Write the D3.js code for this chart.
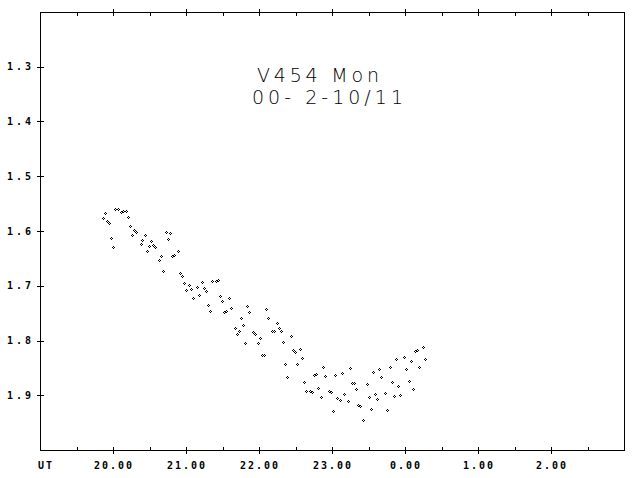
<!DOCTYPE html>
<html>
<head>
<meta charset="utf-8">
<script src="https://cdn.jsdelivr.net/npm/d3@7"></script>
<style>
  html, body { margin: 0; padding: 0; background: #fff; }
  svg { display: block; }
</style>
</head>
<body>
<svg id="chart" width="638" height="478"></svg>
<script>
// ---- data (UT hours, after midnight continued past 24) ----
const utHours = [
  19.894, 19.867, 19.922, 19.949, 20.032, 20.073, 20.114, 20.141, 20.182, 20.210,
  19.977, 20.004, 20.237, 20.292, 20.311, 20.264, 20.442, 20.401, 20.379, 20.525,
  20.497, 20.552, 20.579, 20.470, 20.730, 20.785, 20.758, 20.662, 20.634, 20.689,
  20.895, 20.812, 20.840, 20.918, 20.941, 20.977, 21.045, 21.004, 21.073, 21.155,
  21.215, 21.242, 21.270, 21.182, 21.100, 21.305, 21.356, 21.411, 21.442, 21.470,
  21.497, 21.593, 21.333, 21.525, 21.552, 21.621, 21.836, 21.867, 21.758, 21.785,
  21.675, 21.730, 21.703, 21.922, 21.949, 22.018, 21.812, 21.990, 22.100, 22.127,
  22.251, 22.278, 22.305, 22.182, 22.210, 22.442, 22.333, 22.045, 22.073, 22.470,
  22.497, 22.566, 22.593, 22.360, 22.525, 22.388, 22.881, 22.758, 22.785, 22.908,
  22.621, 22.812, 22.648, 22.703, 22.730, 22.853, 22.963, 22.990, 23.018, 23.045,
  23.073, 23.114, 23.141, 23.168, 23.223, 23.251, 23.278, 23.305, 23.333, 23.360,
  23.388, 23.429, 23.484, 23.511, 23.538, 23.566, 23.593, 23.621, 23.648, 23.675,
  23.730, 23.758, 23.799, 23.826, 23.853, 23.881, 23.908, 23.936, 23.990, 24.018,
  24.059, 24.086, 24.114, 24.141, 24.168, 24.196, 24.251, 24.278
];
const magnitudes = [
  1.568, 1.577, 1.581, 1.586, 1.560, 1.560, 1.566, 1.563, 1.564, 1.575,
  1.613, 1.630, 1.591, 1.599, 1.602, 1.608, 1.607, 1.617, 1.624, 1.618,
  1.628, 1.625, 1.630, 1.637, 1.602, 1.604, 1.615, 1.646, 1.653, 1.673,
  1.637, 1.646, 1.644, 1.677, 1.682, 1.695, 1.698, 1.708, 1.706, 1.703,
  1.693, 1.705, 1.709, 1.717, 1.722, 1.736, 1.691, 1.691, 1.689, 1.719,
  1.728, 1.723, 1.747, 1.748, 1.747, 1.741, 1.737, 1.748, 1.759, 1.772,
  1.778, 1.783, 1.789, 1.785, 1.789, 1.796, 1.805, 1.805, 1.743, 1.759,
  1.768, 1.778, 1.783, 1.783, 1.783, 1.792, 1.803, 1.827, 1.827, 1.818,
  1.821, 1.816, 1.832, 1.843, 1.843, 1.867, 1.849, 1.863, 1.862, 1.865,
  1.876, 1.887, 1.893, 1.893, 1.894, 1.904, 1.893, 1.894, 1.929, 1.863,
  1.905, 1.909, 1.860, 1.898, 1.911, 1.851, 1.878, 1.878, 1.889, 1.918,
  1.920, 1.946, 1.880, 1.904, 1.925, 1.858, 1.898, 1.907, 1.852, 1.867,
  1.896, 1.927, 1.849, 1.876, 1.902, 1.834, 1.883, 1.900, 1.831, 1.852,
  1.874, 1.838, 1.889, 1.820, 1.818, 1.849, 1.812, 1.834
];

const xMajorTicks = [20, 21, 22, 23, 24, 25, 26];
const xTickLabels = ["20.00", "21.00", "22.00", "23.00", "0.00", "1.00", "2.00"];
const xMinorTicks = [19.5, 20.5, 21.5, 22.5, 23.5, 24.5, 25.5, 26.5];
const yTicks = [1.3, 1.4, 1.5, 1.6, 1.7, 1.8, 1.9];
const yTickLabels = ["1.3", "1.4", "1.5", "1.6", "1.7", "1.8", "1.9"];
const titleLines = ["V454 Mon", "00- 2-10/11"];
const xAxisName = "UT";

// ---- drawing ----
const svg = d3.select("#chart");
const L = 40, R = 624, T = 12, B = 450;
const x = d3.scaleLinear().domain([19, 27]).range([L, R]);
const y = d3.scaleLinear().domain([1.2, 2.0]).range([T, B]);
const px = v => Math.round(v) + 0.5;

const axes = svg.append("g").attr("stroke", "#000").attr("stroke-width", 1)
  .attr("shape-rendering", "crispEdges").attr("fill", "none");

axes.append("rect").attr("x", L + 0.5).attr("y", T + 0.5)
  .attr("width", R - L).attr("height", B - T);

// bottom & top ticks
xMajorTicks.forEach(v => {
  const xx = px(x(v));
  axes.append("line").attr("x1", xx).attr("x2", xx).attr("y1", B - 3).attr("y2", B + 4);
  axes.append("line").attr("x1", xx).attr("x2", xx).attr("y1", T - 3).attr("y2", T + 4);
});
xMinorTicks.forEach(v => {
  const xx = px(x(v));
  axes.append("line").attr("x1", xx).attr("x2", xx).attr("y1", B - 3).attr("y2", B);
  axes.append("line").attr("x1", xx).attr("x2", xx).attr("y1", T).attr("y2", T + 4);
});
// left ticks
yTicks.forEach(v => {
  const yy = px(y(v));
  axes.append("line").attr("x1", L - 3).attr("x2", L + 4).attr("y1", yy).attr("y2", yy);
});

// tick labels
const labelFont = g => g.attr("font-family", "'DejaVu Sans Mono', monospace")
  .attr("font-weight", "bold").attr("font-size", 10).attr("fill", "#000");

const xl = svg.append("g").call(labelFont);
xMajorTicks.forEach((v, i) => {
  const s = xTickLabels[i];
  xl.append("text").attr("x", x(v)).attr("y", 468.5)
    .attr("text-anchor", "middle")
    .attr("textLength", s.length * 7.8 - 1).attr("lengthAdjust", "spacing")
    .text(s);
});
xl.append("text").attr("x", 38).attr("y", 468.5)
  .attr("textLength", 14).attr("lengthAdjust", "spacing").text(xAxisName);

const yl = svg.append("g").call(labelFont);
yTicks.forEach((v, i) => {
  const s = yTickLabels[i];
  yl.append("text").attr("x", 19).attr("y", y(v) + 3.5)
    .attr("text-anchor", "middle")
    .attr("textLength", 24).attr("lengthAdjust", "spacing")
    .text(s);
});

// title
const title = svg.append("g").attr("font-family", "'DejaVu Sans', sans-serif")
  .attr("font-weight", 200).attr("font-size", 19).attr("fill", "#000");
title.append("text").attr("x", 257).attr("y", 81.5)
  .attr("textLength", 122).attr("lengthAdjust", "spacing").text(titleLines[0]);
title.append("text").attr("x", 252).attr("y", 104)
  .attr("textLength", 151).attr("lengthAdjust", "spacing").text(titleLines[1]);

// points: tiny hollow diamonds (3x3 pixel pattern)
const pts = utHours.map((h, i) => [h, magnitudes[i]]);
const diamond = (cx, cy) =>
  `M${cx},${cy - 1}h1v1h-1Z M${cx + 1},${cy}h1v1h-1Z M${cx},${cy + 1}h1v1h-1Z M${cx - 1},${cy}h1v1h-1Z`;
svg.append("g").attr("fill", "#000").attr("shape-rendering", "crispEdges")
  .selectAll("path").data(pts).join("path")
  .attr("d", d => diamond(Math.round(x(d[0])), Math.round(y(d[1]))));
</script>
</body>
</html>
